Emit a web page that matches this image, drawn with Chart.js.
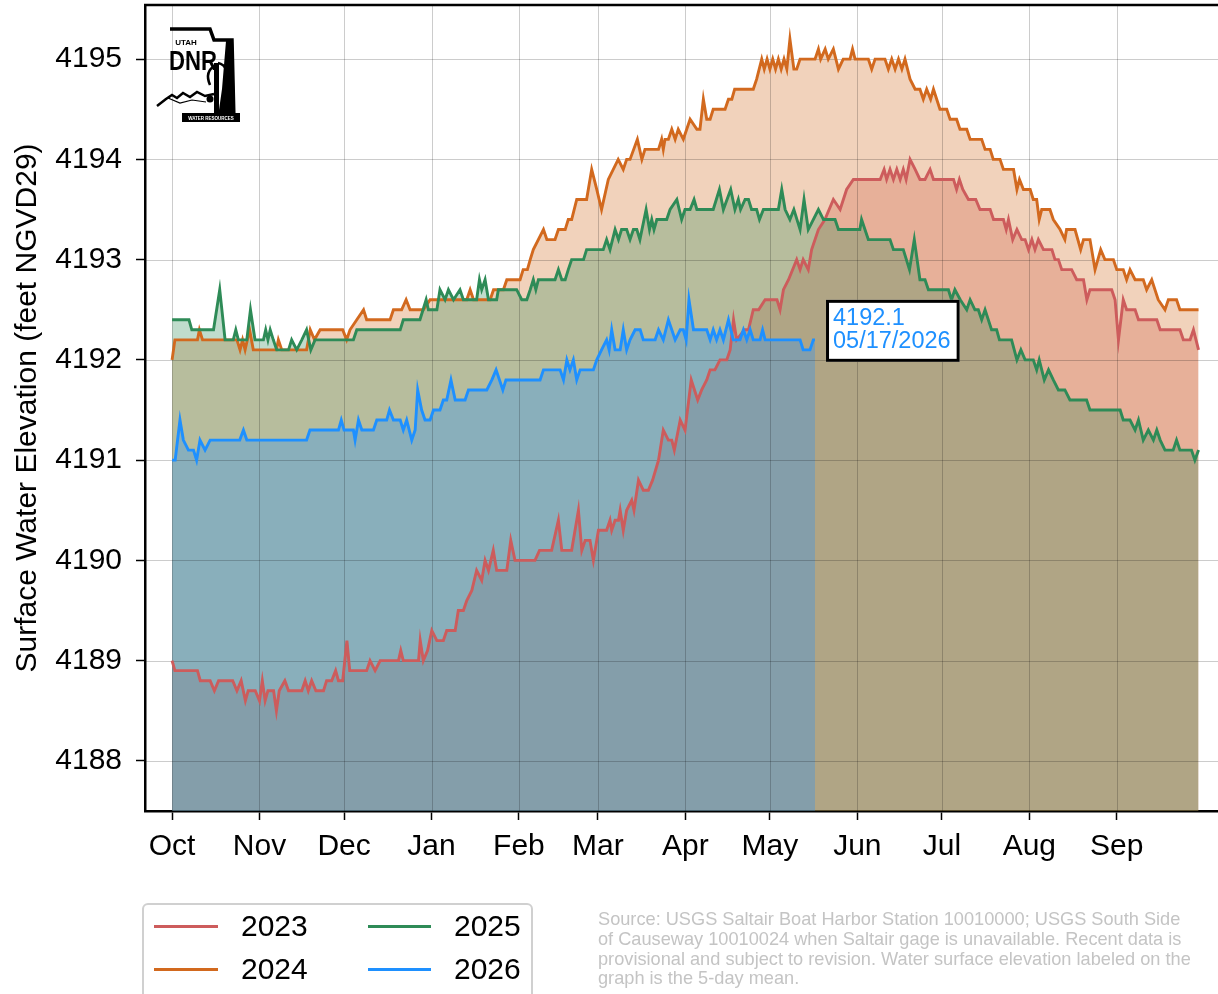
<!DOCTYPE html>
<html>
<head>
<meta charset="utf-8">
<script src="https://cdn.jsdelivr.net/npm/chart.js@4.4.0/dist/chart.umd.min.js"></script>
<style>
html,body{margin:0;padding:0;background:#fff;overflow:hidden}
#wrap{position:relative;width:1218px;height:994px}
</style>
</head>
<body>
<div id="wrap"><canvas id="c" width="1218" height="994"></canvas></div>
<script>
const FONT = '"Liberation Sans", Arial, Helvetica, sans-serif';

// Water-year day index (0 = Oct 1) of each month start, and labels
const monthStarts = [0, 31, 61, 92, 123, 151, 182, 212, 243, 273, 304, 335];
const monthLabels = ['Oct','Nov','Dec','Jan','Feb','Mar','Apr','May','Jun','Jul','Aug','Sep'];
const yTicks = [4188, 4189, 4190, 4191, 4192, 4193, 4194, 4195];

const seriesNames = ['2023', '2024', '2025', '2026'];
const seriesColors = ['#cd5c5c', '#d2691e', '#2e8b57', '#1e90ff'];

// [water-year day, elevation ft]
const wy2023 = [[0,4189.0],[1,4188.9],[9,4188.9],[10,4188.8],[13.5,4188.8],[15,4188.7],[16.5,4188.8],[21.5,4188.8],[23,4188.7],[24.5,4188.8],[26,4188.6],[27,4188.7],[29.5,4188.7],[31,4188.6],[32,4188.8],[33,4188.6],[34,4188.7],[36,4188.7],[37,4188.5],[38,4188.7],[40,4188.8],[41.3,4188.7],[46,4188.7],[47.2,4188.8],[48.3,4188.7],[49.5,4188.8],[51,4188.7],[53.7,4188.7],[54.8,4188.8],[56.6,4188.8],[58,4188.9],[59,4188.8],[60.5,4188.8],[62,4189.2],[63,4188.9],[69,4188.9],[70.2,4189.0],[72,4188.9],[73.8,4189.0],[80.3,4189.0],[81.1,4189.1],[82,4189.0],[87.4,4189.0],[88,4189.2],[89.1,4189.0],[90.6,4189.1],[92.1,4189.3],[93.9,4189.2],[96.2,4189.2],[97.4,4189.3],[100.4,4189.3],[101.5,4189.5],[103.3,4189.5],[104.5,4189.6],[106.3,4189.7],[108,4189.9],[109.8,4189.8],[111,4190.0],[112.2,4189.9],[113.9,4190.1],[115.1,4189.9],[118.7,4189.9],[120.1,4190.2],[121.6,4190.0],[128.7,4190.0],[130.3,4190.1],[134.6,4190.1],[137,4190.4],[138.2,4190.1],[141.7,4190.1],[144.1,4190.5],[145.3,4190.1],[146.5,4190.2],[148.2,4190.2],[149.4,4190.0],[151.2,4190.3],[154.1,4190.3],[155.3,4190.4],[155.9,4190.3],[157.1,4190.4],[158.3,4190.4],[158.9,4190.5],[160,4190.3],[161.2,4190.5],[163,4190.6],[163.8,4190.5],[165.4,4190.8],[167.1,4190.7],[168.9,4190.7],[170.4,4190.8],[172.5,4191.0],[174.2,4191.3],[176,4191.2],[177.2,4191.2],[178.1,4191.1],[180.2,4191.4],[181.9,4191.3],[184.1,4191.8],[186.4,4191.6],[187.8,4191.7],[189.6,4191.8],[190.8,4191.9],[192.5,4191.9],[194.3,4192.0],[196.7,4192.0],[197.9,4192.1],[199.1,4192.4],[200.2,4192.2],[203,4192.3],[204.4,4192.3],[206.1,4192.5],[208,4192.5],[210.3,4192.6],[214.5,4192.6],[215.6,4192.5],[216.8,4192.7],[218.6,4192.8],[221.5,4193.0],[222.7,4192.9],[223.8,4193.0],[225.6,4192.9],[226.8,4193.1],[229.2,4193.3],[231.5,4193.4],[234.5,4193.6],[236.9,4193.5],[239.2,4193.7],[241.6,4193.8],[251.1,4193.8],[252.5,4193.9],[253.4,4193.8],[254.6,4193.9],[255.8,4193.8],[257,4193.9],[258.2,4193.8],[259.3,4193.9],[260.3,4193.8],[261.7,4194.0],[263.5,4193.9],[265.2,4193.8],[267,4193.8],[268.8,4193.9],[270,4193.8],[277.1,4193.8],[278.2,4193.7],[279.2,4193.8],[280.4,4193.7],[282.4,4193.6],[285,4193.6],[286.5,4193.5],[290.1,4193.5],[291.3,4193.4],[294.8,4193.4],[295.8,4193.3],[296.6,4193.4],[298.1,4193.2],[299.6,4193.3],[301.3,4193.2],[302.5,4193.2],[303.7,4193.1],[304.9,4193.2],[306,4193.1],[307.2,4193.2],[309,4193.1],[312,4193.1],[313.1,4193.0],[314.3,4193.0],[315.5,4192.9],[319,4192.9],[320.8,4192.8],[323.2,4192.8],[324.4,4192.6],[325.5,4192.7],[333.2,4192.7],[334.4,4192.6],[335.6,4192.2],[337.3,4192.6],[338.5,4192.5],[341.5,4192.5],[342.7,4192.4],[349.2,4192.4],[350.4,4192.3],[357.4,4192.3],[358.6,4192.2],[361,4192.2],[362.2,4192.3],[364,4192.1]];

const wy2024 = [[0,4192.0],[1,4192.2],[9,4192.2],[9.7,4192.3],[10.8,4192.2],[23,4192.2],[24.1,4192.1],[25,4192.2],[25.9,4192.1],[27.5,4192.3],[28.8,4192.1],[37,4192.1],[37.7,4192.2],[38.9,4192.1],[47.7,4192.1],[49,4192.3],[50.5,4192.2],[52.5,4192.3],[60.5,4192.3],[61.9,4192.2],[63.1,4192.3],[65.5,4192.4],[67.9,4192.5],[69,4192.4],[77.3,4192.4],[78.5,4192.5],[81.4,4192.5],[83,4192.6],[84.4,4192.5],[89.1,4192.5],[91.5,4192.6],[104.5,4192.6],[105.7,4192.7],[106.9,4192.6],[112.8,4192.6],[114,4192.7],[117.5,4192.7],[118.7,4192.8],[123.4,4192.8],[124.5,4192.9],[126,4192.9],[127,4193.0],[128.1,4193.1],[131.7,4193.3],[132.9,4193.2],[135.8,4193.2],[137,4193.3],[139.4,4193.3],[140.5,4193.4],[141.7,4193.4],[143.5,4193.6],[147,4193.6],[148.8,4193.9],[150.6,4193.7],[152.3,4193.5],[154.7,4193.8],[158.2,4194.0],[160,4193.9],[161.2,4194.0],[162.4,4194.0],[165,4194.2],[166.6,4194.0],[167.7,4194.1],[172.5,4194.1],[173.6,4194.2],[174.2,4194.1],[174.8,4194.2],[176,4194.2],[177.2,4194.3],[178.4,4194.2],[179.5,4194.3],[181.3,4194.2],[183.7,4194.4],[186.1,4194.3],[187.2,4194.3],[188.4,4194.6],[189.6,4194.4],[190.8,4194.4],[191.9,4194.5],[196.1,4194.5],[197.3,4194.6],[198.5,4194.6],[199.5,4194.7],[206.1,4194.7],[207.3,4194.8],[209.1,4195.0],[210,4194.9],[211,4195.0],[212,4194.9],[213,4195.0],[214,4194.9],[215,4195.0],[216,4194.9],[217,4195.0],[218,4194.9],[219.1,4195.2],[220.5,4194.9],[221.5,4194.9],[222.7,4195.0],[228,4195.0],[229.2,4195.1],[230,4195.0],[231.6,4195.1],[232.7,4195.0],[234.5,4195.1],[236.3,4194.9],[238,4195.0],[240.4,4195.0],[241.3,4195.1],[242.2,4195.0],[246.9,4195.0],[248.1,4194.9],[249.3,4195.0],[252.8,4195.0],[254,4194.9],[255.2,4195.0],[256.4,4194.9],[257.6,4195.0],[258.8,4194.9],[259.9,4195.0],[261.7,4194.8],[263.5,4194.7],[265.2,4194.7],[266.4,4194.6],[267.6,4194.7],[269,4194.6],[270,4194.7],[272.3,4194.5],[274.7,4194.5],[275.9,4194.4],[278.2,4194.4],[279.4,4194.3],[281.8,4194.3],[283,4194.2],[287.1,4194.2],[288.3,4194.1],[290.1,4194.1],[291.2,4194.0],[293.6,4194.0],[294.8,4193.9],[298.4,4193.9],[299.6,4193.7],[300.5,4193.8],[301.9,4193.7],[304.3,4193.7],[305.4,4193.6],[306.6,4193.6],[307.5,4193.4],[308.4,4193.5],[311.3,4193.5],[312.5,4193.4],[314.9,4193.3],[316.6,4193.2],[317.2,4193.3],[320.2,4193.3],[322.2,4193.1],[323.2,4193.2],[325.5,4193.2],[327.3,4192.9],[329.3,4193.1],[330.8,4193.0],[333.8,4193.0],[335,4192.9],[337.3,4192.9],[338.5,4192.8],[339.7,4192.9],[341.5,4192.8],[344.4,4192.8],[345.6,4192.7],[347.4,4192.8],[349.7,4192.6],[352.1,4192.5],[353.3,4192.6],[356.2,4192.6],[357.4,4192.5],[364,4192.5]];

const wy2025 = [[0,4192.4],[6,4192.4],[7,4192.3],[14.7,4192.3],[16.9,4192.7],[18.8,4192.2],[21.7,4192.2],[22.6,4192.3],[23.5,4192.2],[26.5,4192.2],[27.8,4192.5],[29.4,4192.2],[32.4,4192.2],[33.2,4192.3],[34,4192.2],[34.8,4192.3],[35.9,4192.2],[37.1,4192.1],[41.3,4192.1],[42.4,4192.2],[44.2,4192.1],[46,4192.2],[47.7,4192.3],[49.2,4192.1],[50.7,4192.2],[64.3,4192.2],[65.5,4192.3],[80.9,4192.3],[82,4192.4],[87.9,4192.4],[90.1,4192.6],[90.9,4192.5],[93.9,4192.5],[95,4192.7],[96.8,4192.6],[98,4192.7],[99.8,4192.6],[102.1,4192.7],[103.3,4192.6],[108,4192.6],[109,4192.8],[109.8,4192.7],[111,4192.8],[112.2,4192.6],[115.1,4192.6],[115.7,4192.7],[122.2,4192.7],[124,4192.6],[125.8,4192.6],[127,4192.7],[128.1,4192.8],[129,4192.7],[129.9,4192.8],[135.8,4192.8],[137,4192.9],[138.2,4192.8],[139.4,4192.8],[140.5,4192.9],[141.7,4193.0],[145.9,4193.0],[147,4193.1],[152.9,4193.1],[154.1,4193.2],[155.3,4193.1],[157.1,4193.3],[158.3,4193.2],[159.4,4193.3],[161.2,4193.3],[162.4,4193.2],[163.6,4193.3],[164.8,4193.3],[165.9,4193.2],[168.1,4193.5],[169.3,4193.3],[170.1,4193.4],[170.9,4193.3],[171.9,4193.4],[175.4,4193.4],[176.6,4193.5],[179,4193.6],[180.7,4193.4],[181.9,4193.5],[183.7,4193.5],[185.1,4193.6],[186.1,4193.5],[191.9,4193.5],[194.1,4193.7],[195.5,4193.5],[198.1,4193.7],[199.6,4193.5],[200.8,4193.6],[201.6,4193.5],[203.2,4193.6],[204.4,4193.6],[205.5,4193.5],[207.3,4193.5],[208.3,4193.4],[209.7,4193.5],[215,4193.5],[216.2,4193.7],[217.4,4193.5],[219.1,4193.4],[220.5,4193.5],[222.7,4193.3],[224.1,4193.6],[225.6,4193.3],[229.2,4193.5],[231,4193.4],[235.1,4193.4],[236.3,4193.3],[243.9,4193.3],[244.5,4193.4],[246.9,4193.2],[254.6,4193.2],[255.8,4193.1],[259.3,4193.1],[261.5,4192.9],[263.2,4193.2],[265.2,4192.8],[267,4192.8],[268.2,4192.7],[275.3,4192.7],[276.4,4192.6],[277.6,4192.7],[279.5,4192.6],[281.8,4192.5],[283,4192.6],[284.7,4192.5],[285.9,4192.5],[287.1,4192.4],[288.3,4192.5],[290.6,4192.3],[292.4,4192.3],[293.4,4192.2],[297.7,4192.2],[299.6,4192.0],[301,4192.1],[302.5,4192.0],[305.4,4192.0],[306.6,4191.9],[307.5,4192.0],[309.3,4191.8],[310.8,4191.9],[312.5,4191.8],[314.3,4191.7],[316.6,4191.7],[318.4,4191.6],[324.3,4191.6],[325.5,4191.5],[336.2,4191.5],[337.3,4191.4],[339.7,4191.4],[341.5,4191.3],[342.7,4191.4],[344.4,4191.2],[346.2,4191.3],[348,4191.2],[349.2,4191.3],[350.4,4191.2],[352.1,4191.1],[355,4191.1],[356.2,4191.2],[357.4,4191.1],[361.5,4191.1],[362.7,4191.0],[364,4191.1]];

const wy2026 = [[0,4191.0],[1.1,4191.0],[2.8,4191.4],[4,4191.2],[5.8,4191.1],[7.6,4191.1],[8.7,4191.0],[9.9,4191.2],[11.7,4191.1],[13.5,4191.2],[24,4191.2],[25.3,4191.3],[26.5,4191.2],[47.7,4191.2],[48.9,4191.3],[59,4191.3],[60,4191.4],[61,4191.3],[64.3,4191.3],[64.9,4191.2],[66.1,4191.4],[67.3,4191.3],[71.4,4191.3],[72.6,4191.4],[76.1,4191.4],[77.1,4191.5],[78.5,4191.4],[80.9,4191.4],[82,4191.3],[83.2,4191.4],[85,4191.2],[86.2,4191.3],[87.1,4191.7],[88.5,4191.5],[89.7,4191.4],[91.5,4191.4],[92.7,4191.5],[95,4191.5],[96.2,4191.6],[97.4,4191.6],[98.9,4191.8],[100.4,4191.6],[103.9,4191.6],[105.1,4191.7],[111.6,4191.7],[113.4,4191.8],[114.9,4191.9],[117.3,4191.7],[118.4,4191.8],[130.5,4191.8],[131.7,4191.9],[137.6,4191.9],[138.8,4191.8],[140,4192.0],[141.1,4191.9],[142.3,4192.0],[143.5,4191.8],[144.7,4191.9],[149.4,4191.9],[150.6,4192.0],[152.3,4192.1],[154.1,4192.2],[155,4192.1],[155.9,4192.3],[157.1,4192.1],[158.9,4192.1],[160,4192.3],[161.2,4192.1],[162.4,4192.2],[164.2,4192.3],[166,4192.3],[167.1,4192.2],[171.3,4192.2],[172.5,4192.3],[174.2,4192.2],[176,4192.4],[178.4,4192.2],[180.2,4192.3],[181.3,4192.3],[182.3,4192.2],[183.3,4192.6],[184.9,4192.3],[189.6,4192.3],[190.8,4192.2],[191.9,4192.3],[193.1,4192.2],[194.3,4192.3],[195.5,4192.2],[197.3,4192.4],[199,4192.2],[201.4,4192.2],[202.6,4192.3],[203.8,4192.2],[205,4192.3],[206.1,4192.2],[208.5,4192.2],[209.4,4192.3],[210.3,4192.2],[222.7,4192.2],[223.8,4192.1],[226.2,4192.1],[227.4,4192.2],[228,4192.2]];

const seriesData = [wy2023, wy2024, wy2025, wy2026];

const annotValue = '4192.1';
const annotDate = '05/17/2026';
const yTitle = 'Surface Water Elevation (feet NGVD29)';
const sourceLines = [
  'Source: USGS Saltair Boat Harbor Station 10010000; USGS South Side',
  'of Causeway 10010024 when Saltair gage is unavailable. Recent data is',
  'provisional and subject to revision. Water surface elevation labeled on the',
  'graph is the 5-day mean.'
];

function hexA(hex, a) {
  const n = parseInt(hex.slice(1), 16);
  return `rgba(${(n>>16)&255},${(n>>8)&255},${n&255},${a})`;
}

const datasets = seriesData.map((d, i) => ({
  label: seriesNames[i],
  data: d.map(p => ({x: p[0], y: p[1]})),
  borderColor: seriesColors[i],
  backgroundColor: hexA(seriesColors[i], 0.3),
  borderWidth: 2.9,
  pointRadius: 0,
  tension: 0,
  fill: 'start',
  order: seriesNames.length - i
}));

const gridPlugin = {
  id: 'gridUnder',
  beforeDatasetsDraw(chart) {
    const {ctx, chartArea: a, scales: {x, y}} = chart;
    ctx.save();
    ctx.strokeStyle = 'rgba(0,0,0,0.2)';
    ctx.lineWidth = 1;
    ctx.beginPath();
    monthStarts.forEach(v => {
      const px = Math.round(x.getPixelForValue(v)) + 0.5;
      ctx.moveTo(px, a.top); ctx.lineTo(px, a.bottom);
    });
    yTicks.forEach(v => {
      const py = Math.round(y.getPixelForValue(v)) + 0.5;
      ctx.moveTo(a.left, py); ctx.lineTo(a.right, py);
    });
    ctx.stroke();
    ctx.restore();
  }
};

function drawLogo(ctx, ox, oy) {
  ctx.save();
  ctx.translate(ox, oy);
  ctx.fillStyle = '#000';
  ctx.strokeStyle = '#000';
  // outline of state: top and right sides
  ctx.lineWidth = 3.5;
  ctx.beginPath();
  ctx.moveTo(10, 2); ctx.lineTo(50, 2); ctx.lineTo(54, 13); ctx.lineTo(72, 13); ctx.lineTo(74, 94);
  ctx.stroke();
  // right dark band
  ctx.beginPath();
  ctx.moveTo(66, 14); ctx.lineTo(73, 14); ctx.lineTo(75, 90); ctx.lineTo(58, 90); ctx.lineTo(62, 62);
  ctx.closePath(); ctx.fill();
  // text
  ctx.textAlign = 'center'; ctx.textBaseline = 'alphabetic';
  ctx.font = 'bold 8px ' + FONT;
  ctx.fillText('UTAH', 26, 18);
  ctx.save();
  ctx.scale(0.82, 1);
  ctx.font = 'bold 27px ' + FONT;
  ctx.textAlign = 'left';
  ctx.fillText('DNR', 9 / 0.82, 43);
  ctx.restore();
  // pump
  ctx.fillRect(54, 36, 5, 54);
  ctx.lineWidth = 2.5;
  ctx.beginPath();
  ctx.moveTo(56, 38); ctx.quadraticCurveTo(44, 44, 50, 58);
  ctx.moveTo(58, 36); ctx.quadraticCurveTo(70, 38, 67, 60);
  ctx.stroke();
  ctx.beginPath(); ctx.arc(50, 72, 3.5, 0, Math.PI * 2); ctx.fill();
  // mountains
  ctx.lineWidth = 2.5;
  ctx.beginPath();
  ctx.moveTo(-3, 79); ctx.lineTo(6, 72); ctx.lineTo(12, 68); ctx.lineTo(17, 71); ctx.lineTo(23, 66);
  ctx.lineTo(30, 70); ctx.lineTo(37, 65); ctx.lineTo(45, 69); ctx.lineTo(54, 67);
  ctx.stroke();
  ctx.beginPath();
  ctx.moveTo(8, 71); ctx.lineTo(20, 76); ctx.lineTo(32, 73); ctx.lineTo(46, 75);
  ctx.lineWidth = 1.2; ctx.stroke();
  // bottom bar
  ctx.fillRect(22, 86, 58, 9);
  ctx.fillStyle = '#fff';
  ctx.font = 'bold 4.5px ' + FONT;
  ctx.textAlign = 'center';
  ctx.fillText('WATER RESOURCES', 51, 92.5);
  ctx.restore();
}

const decorPlugin = {
  id: 'decor',
  afterDatasetsDraw(chart) {
    const {ctx, chartArea: a, scales: {x, y}} = chart;
    // top spine
    ctx.save();
    ctx.strokeStyle = '#000';
    ctx.lineWidth = 2.5;
    ctx.beginPath();
    ctx.moveTo(a.left - 1, a.top); ctx.lineTo(a.right, a.top);
    ctx.stroke();
    ctx.restore();

    // logo
    drawLogo(ctx, 160, 27);

    // annotation for last 2026 point
    const last = wy2026[wy2026.length - 1];
    const lx = x.getPixelForValue(last[0]);
    const ly = y.getPixelForValue(last[1]);
    ctx.save();
    ctx.font = '23.5px ' + FONT;
    const tw = Math.max(ctx.measureText(annotValue).width, ctx.measureText(annotDate).width);
    const bx = lx + 11, bw = tw + 16, bh = 62;
    const by = ly - 9 - bh / 2;
    ctx.fillStyle = '#fff';
    ctx.fillRect(bx, by, bw, bh);
    ctx.strokeStyle = '#000';
    ctx.lineWidth = 3;
    ctx.strokeRect(bx + 1.5, by + 1.5, bw - 3, bh - 3);
    ctx.fillStyle = seriesColors[3];
    ctx.textAlign = 'left';
    ctx.textBaseline = 'alphabetic';
    ctx.fillText(annotValue, bx + 7, by + 25);
    ctx.fillText(annotDate, bx + 7, by + 48.5);
    ctx.restore();
  },
  afterDraw(chart) {
    const {ctx} = chart;
    // legend
    ctx.save();
    ctx.fillStyle = '#fff';
    ctx.strokeStyle = '#d0d0d0';
    ctx.lineWidth = 2;
    ctx.beginPath();
    ctx.roundRect(143, 904, 389, 110, 5);
    ctx.fill(); ctx.stroke();
    const rows = [926.5, 969.5];
    const cols = [[154, 218, 241], [368, 431, 454]];
    ctx.font = '30px ' + FONT;
    ctx.textBaseline = 'middle';
    ctx.textAlign = 'left';
    seriesNames.forEach((nm, i) => {
      const c = cols[Math.floor(i / 2)], r = rows[i % 2];
      ctx.strokeStyle = seriesColors[i];
      ctx.lineWidth = 3;
      ctx.beginPath(); ctx.moveTo(c[0], r); ctx.lineTo(c[1], r); ctx.stroke();
      ctx.fillStyle = '#000';
      ctx.fillText(nm, c[2], r + 1);
    });
    // source note
    ctx.fillStyle = '#c4c4c4';
    ctx.font = '18.2px ' + FONT;
    ctx.textBaseline = 'alphabetic';
    sourceLines.forEach((t, i) => ctx.fillText(t, 598, 925 + i * 19.8));
    ctx.restore();
  }
};

new Chart(document.getElementById('c').getContext('2d'), {
  type: 'line',
  data: {datasets},
  options: {
    responsive: false,
    animation: false,
    devicePixelRatio: 1,
    layout: {padding: {left: 0, right: 0, top: 5, bottom: 0}},
    plugins: {
      legend: {display: false},
      tooltip: {enabled: false},
      filler: {drawTime: 'beforeDatasetsDraw'}
    },
    scales: {
      x: {
        type: 'linear',
        min: -9.6,
        max: 370.9,
        afterBuildTicks: s => { s.ticks = monthStarts.map(v => ({value: v})); },
        afterFit: s => { s.height = 183; s.paddingLeft = 0; s.paddingRight = 0; },
        ticks: {
          callback: (v, i) => monthLabels[i],
          font: {family: FONT, size: 30},
          color: '#000',
          padding: 9,
          maxRotation: 0,
          autoSkip: false
        },
        grid: {display: true, drawOnChartArea: false, drawTicks: true, tickLength: 9, tickColor: '#000', tickWidth: 1.5},
        border: {display: true, color: '#000', width: 2.5}
      },
      y: {
        type: 'linear',
        min: 4187.5,
        max: 4195.54,
        afterBuildTicks: s => { s.ticks = yTicks.map(v => ({value: v})); },
        afterFit: s => { s.width = 145; s.paddingTop = 0; s.paddingBottom = 0; },
        ticks: {
          callback: v => String(v),
          font: {family: FONT, size: 30},
          color: '#000',
          padding: 14
        },
        grid: {display: true, drawOnChartArea: false, drawTicks: true, tickLength: 9, tickColor: '#000', tickWidth: 1.5},
        border: {display: true, color: '#000', width: 2.5},
        title: {
          display: true,
          text: yTitle,
          font: {family: FONT, size: 30},
          color: '#000',
          padding: {top: 10, bottom: 0}
        }
      }
    }
  },
  plugins: [gridPlugin, decorPlugin]
});
</script>
</body>
</html>
